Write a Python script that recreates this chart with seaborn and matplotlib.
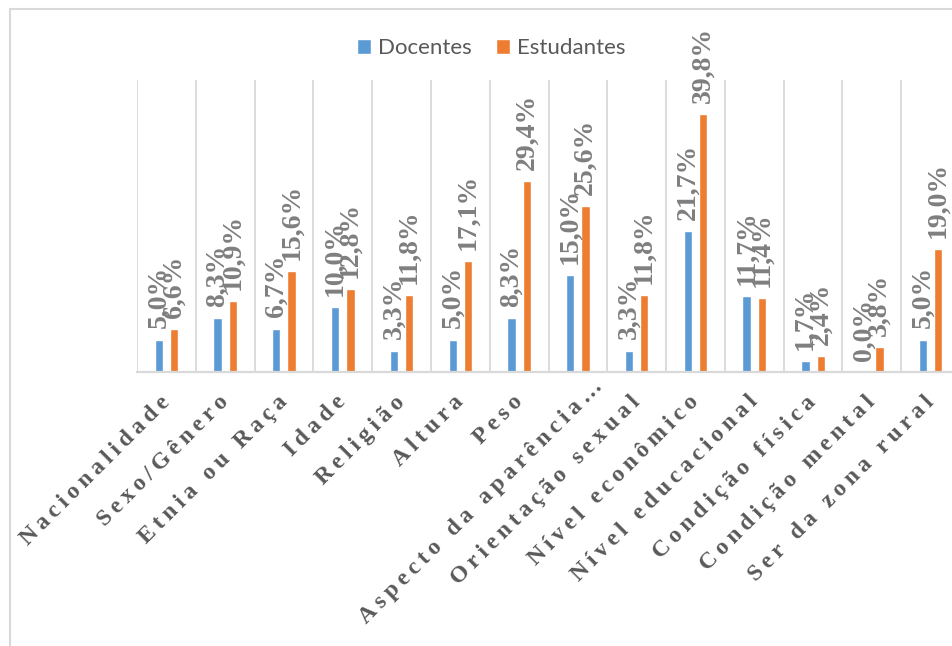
import numpy as np
import pandas as pd
import matplotlib
matplotlib.use("Agg")
import matplotlib.pyplot as plt
import seaborn as sns
from matplotlib.patches import Rectangle

# Categorias de discriminação e percentuais por grupo
categorias = ["Nacionalidade", "Sexo/Gênero", "Etnia ou Raça", "Idade", "Religião",
              "Altura", "Peso", "Aspecto da aparência…", "Orientação sexual",
              "Nível econômico", "Nível educacional", "Condição física",
              "Condição mental", "Ser da zona rural"]
docentes = [5.0, 8.3, 6.7, 10.0, 3.3, 5.0, 8.3, 15.0, 3.3, 21.7, 11.7, 1.7, 0.0, 5.0]
estudantes = [6.6, 10.9, 15.6, 12.8, 11.8, 17.1, 29.4, 25.6, 11.8, 39.8, 11.4, 2.4, 3.8, 19.0]
grupos = ["Docentes", "Estudantes"]
cores = ["#5B9BD5", "#ED7D31"]

df = pd.DataFrame({
    "Categoria": categorias * 2,
    "Grupo": [grupos[0]] * len(categorias) + [grupos[1]] * len(categorias),
    "Percentual": docentes + estudantes,
})

sns.set_style("white")
serif = ["Liberation Serif", "DejaVu Serif"]
plt.rcParams["font.family"] = serif

W, H = 952, 646
fig = plt.figure(figsize=(W / 100, H / 100), dpi=100)
ax = fig.add_axes([137 / W, 1 - 372 / H, 823 / W, 292 / H])

sns.barplot(data=df, x="Categoria", y="Percentual", hue="Grupo",
            order=categorias, hue_order=grupos, palette=cores, saturation=1,
            width=0.52, gap=0.46, errorbar=None, ax=ax, legend=True)

# Rótulos de valor, girados, acima de cada barra
for cont, vals in zip(ax.containers, [docentes, estudantes]):
    ax.bar_label(cont, labels=[f"{v:.1f}%".replace(".", ",") for v in vals],
                 rotation=90, padding=8, color="#7F7F7F", fontsize=20,
                 fontweight="bold", family=serif)

ax.set_xlim(-0.5, len(categorias) - 0.5)
ax.set_ylim(0, 45)
ax.set_xlabel("")
ax.set_ylabel("")

# Linhas verticais separando as categorias
ax.set_xticks(np.arange(-0.5, len(categorias), 1), minor=True)
ax.grid(which="minor", axis="x", color="#D9D9D9", lw=1.3)
ax.grid(which="major", visible=False)
ax.set_axisbelow(True)
ax.tick_params(which="both", length=0, labelbottom=False, labelleft=False)
sns.despine(ax=ax, left=True)
ax.spines["bottom"].set_color("#D9D9D9")
ax.spines["bottom"].set_linewidth(1.6)

# Rótulos das categorias, com espaçamento entre letras
for i, cat in enumerate(categorias):
    espacado = "\u2009".join(cat)
    dx, dy = (22, -12) if cat.endswith("…") else (0, -27)
    ax.annotate(espacado, xy=(i, 0), xycoords=("data", "axes fraction"),
                xytext=(dx, dy), textcoords="offset pixels", rotation=45,
                rotation_mode="anchor", ha="right", va="center", fontsize=17,
                fontweight="bold", color="#595959", family=serif,
                annotation_clip=False)

sns.move_legend(ax, "center", bbox_to_anchor=(491 / W, 1 - 48 / H),
                bbox_transform=fig.transFigure, ncol=2, frameon=False, title=None,
                handlelength=0.65, handleheight=0.65, handletextpad=0.3,
                columnspacing=1.1, prop={"family": "Lato", "size": 16},
                labelcolor="#595959")

# Moldura da área do gráfico
fig.add_artist(Rectangle((10 / W, -0.1), 1.2, 1 - 8.5 / H + 0.1,
                         transform=fig.transFigure, fill=False,
                         ec="#D9D9D9", lw=1.5))

fig.savefig("out.png", dpi=100)
